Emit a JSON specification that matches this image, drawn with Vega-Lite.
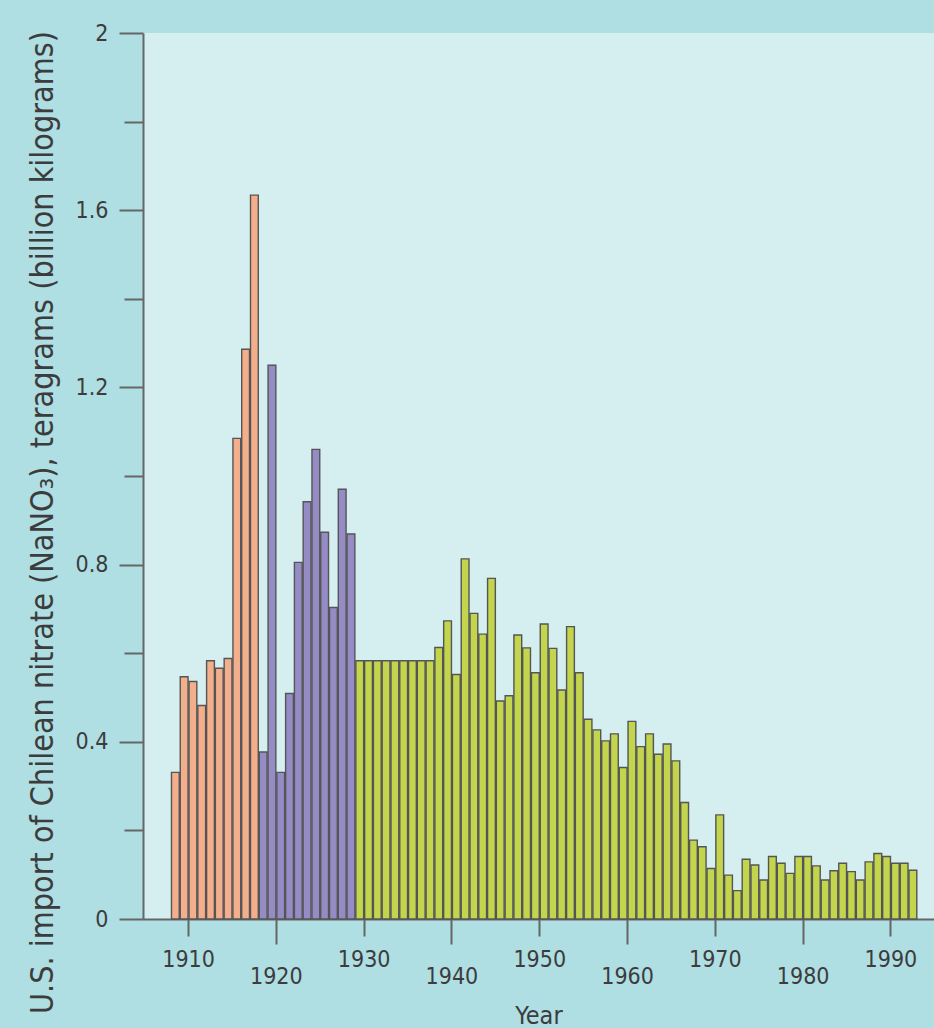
{
  "$schema": "https://vega.github.io/schema/vega-lite/v6.json",
  "width": 791,
  "height": 886,
  "autosize": {"type": "none"},
  "padding": {"left": 143, "top": 33, "right": 0, "bottom": 109},
  "background": "#afdee3",
  "config": {
    "view": {"fill": "#d5eef0", "stroke": null},
    "font": "DejaVu Sans Condensed"
  },
  "data": {
    "values": [
      {"year": 1908, "value": 0.331, "period": "a"},
      {"year": 1909, "value": 0.547, "period": "a"},
      {"year": 1910, "value": 0.536, "period": "a"},
      {"year": 1911, "value": 0.482, "period": "a"},
      {"year": 1912, "value": 0.583, "period": "a"},
      {"year": 1913, "value": 0.566, "period": "a"},
      {"year": 1914, "value": 0.588, "period": "a"},
      {"year": 1915, "value": 1.085, "period": "a"},
      {"year": 1916, "value": 1.286, "period": "a"},
      {"year": 1917, "value": 1.634, "period": "a"},
      {"year": 1918, "value": 0.377, "period": "b"},
      {"year": 1919, "value": 1.250, "period": "b"},
      {"year": 1920, "value": 0.331, "period": "b"},
      {"year": 1921, "value": 0.509, "period": "b"},
      {"year": 1922, "value": 0.805, "period": "b"},
      {"year": 1923, "value": 0.942, "period": "b"},
      {"year": 1924, "value": 1.060, "period": "b"},
      {"year": 1925, "value": 0.873, "period": "b"},
      {"year": 1926, "value": 0.703, "period": "b"},
      {"year": 1927, "value": 0.970, "period": "b"},
      {"year": 1928, "value": 0.869, "period": "b"},
      {"year": 1929, "value": 0.583, "period": "c"},
      {"year": 1930, "value": 0.583, "period": "c"},
      {"year": 1931, "value": 0.583, "period": "c"},
      {"year": 1932, "value": 0.583, "period": "c"},
      {"year": 1933, "value": 0.583, "period": "c"},
      {"year": 1934, "value": 0.583, "period": "c"},
      {"year": 1935, "value": 0.583, "period": "c"},
      {"year": 1936, "value": 0.583, "period": "c"},
      {"year": 1937, "value": 0.583, "period": "c"},
      {"year": 1938, "value": 0.613, "period": "c"},
      {"year": 1939, "value": 0.673, "period": "c"},
      {"year": 1940, "value": 0.552, "period": "c"},
      {"year": 1941, "value": 0.813, "period": "c"},
      {"year": 1942, "value": 0.690, "period": "c"},
      {"year": 1943, "value": 0.643, "period": "c"},
      {"year": 1944, "value": 0.769, "period": "c"},
      {"year": 1945, "value": 0.492, "period": "c"},
      {"year": 1946, "value": 0.504, "period": "c"},
      {"year": 1947, "value": 0.641, "period": "c"},
      {"year": 1948, "value": 0.612, "period": "c"},
      {"year": 1949, "value": 0.556, "period": "c"},
      {"year": 1950, "value": 0.666, "period": "c"},
      {"year": 1951, "value": 0.611, "period": "c"},
      {"year": 1952, "value": 0.517, "period": "c"},
      {"year": 1953, "value": 0.660, "period": "c"},
      {"year": 1954, "value": 0.556, "period": "c"},
      {"year": 1955, "value": 0.451, "period": "c"},
      {"year": 1956, "value": 0.427, "period": "c"},
      {"year": 1957, "value": 0.402, "period": "c"},
      {"year": 1958, "value": 0.418, "period": "c"},
      {"year": 1959, "value": 0.342, "period": "c"},
      {"year": 1960, "value": 0.446, "period": "c"},
      {"year": 1961, "value": 0.389, "period": "c"},
      {"year": 1962, "value": 0.418, "period": "c"},
      {"year": 1963, "value": 0.372, "period": "c"},
      {"year": 1964, "value": 0.395, "period": "c"},
      {"year": 1965, "value": 0.357, "period": "c"},
      {"year": 1966, "value": 0.263, "period": "c"},
      {"year": 1967, "value": 0.178, "period": "c"},
      {"year": 1968, "value": 0.163, "period": "c"},
      {"year": 1969, "value": 0.114, "period": "c"},
      {"year": 1970, "value": 0.235, "period": "c"},
      {"year": 1971, "value": 0.099, "period": "c"},
      {"year": 1972, "value": 0.064, "period": "c"},
      {"year": 1973, "value": 0.135, "period": "c"},
      {"year": 1974, "value": 0.122, "period": "c"},
      {"year": 1975, "value": 0.088, "period": "c"},
      {"year": 1976, "value": 0.141, "period": "c"},
      {"year": 1977, "value": 0.126, "period": "c"},
      {"year": 1978, "value": 0.103, "period": "c"},
      {"year": 1979, "value": 0.141, "period": "c"},
      {"year": 1980, "value": 0.141, "period": "c"},
      {"year": 1981, "value": 0.120, "period": "c"},
      {"year": 1982, "value": 0.088, "period": "c"},
      {"year": 1983, "value": 0.109, "period": "c"},
      {"year": 1984, "value": 0.126, "period": "c"},
      {"year": 1985, "value": 0.107, "period": "c"},
      {"year": 1986, "value": 0.088, "period": "c"},
      {"year": 1987, "value": 0.129, "period": "c"},
      {"year": 1988, "value": 0.148, "period": "c"},
      {"year": 1989, "value": 0.141, "period": "c"},
      {"year": 1990, "value": 0.126, "period": "c"},
      {"year": 1991, "value": 0.126, "period": "c"},
      {"year": 1992, "value": 0.110, "period": "c"}
    ]
  },
  "mark": {"type": "bar", "stroke": "#555555", "strokeWidth": 1.4},
  "encoding": {
    "x": {
      "field": "year",
      "type": "quantitative",
      "bin": {"binned": true, "step": 1},
      "scale": {"domain": [1904.87, 1994.96], "nice": false, "zero": false},
      "axis": {
        "values": [1910, 1920, 1930, 1940, 1950, 1960, 1970, 1980, 1990],
        "format": "d",
        "grid": false,
        "domainColor": "#666666",
        "domainWidth": 2,
        "tickColor": "#666666",
        "tickWidth": 2,
        "tickSize": {"condition": {"test": "datum.value % 20 == 0", "value": 25}, "value": 17},
        "labelPadding": {"condition": {"test": "datum.value % 20 == 0", "value": 21}, "value": 12},
        "labelFont": "DejaVu Sans Condensed",
        "labelFontSize": 23,
        "labelColor": "#3c3c3c",
        "labelBaseline": "top",
        "title": "Year",
        "titleFont": "DejaVu Sans Condensed",
        "titleFontSize": 25,
        "titleFontWeight": "normal",
        "titleColor": "#3c3c3c",
        "titleY": 104,
        "titleBaseline": "alphabetic"
      }
    },
    "y": {
      "field": "value",
      "type": "quantitative",
      "scale": {"domain": [0, 2], "nice": false},
      "axis": {
        "values": [0, 0.2, 0.4, 0.6, 0.8, 1, 1.2, 1.4, 1.6, 1.8, 2],
        "labelExpr": "round(datum.value * 10) % 4 == 0 ? format(datum.value, '~g') : ''",
        "grid": false,
        "domainColor": "#666666",
        "domainWidth": 2,
        "tickColor": "#666666",
        "tickWidth": 2,
        "tickSize": {"condition": {"test": "round(datum.value * 10) % 4 == 0", "value": 24}, "value": 19},
        "labelPadding": 11,
        "labelFont": "DejaVu Sans Condensed",
        "labelFontSize": 23,
        "labelColor": "#3c3c3c",
        "title": "U.S. import of Chilean nitrate (NaNO₃), teragrams (billion kilograms)",
        "titleFont": "DejaVu Sans Condensed",
        "titleFontSize": 32,
        "titleFontWeight": "normal",
        "titleColor": "#3c3c3c",
        "titleX": -91,
        "titleY": 489,
        "titleBaseline": "alphabetic",
        "titleAngle": -90
      }
    },
    "fill": {
      "field": "period",
      "type": "nominal",
      "scale": {"domain": ["a", "b", "c"], "range": ["#f3ae8b", "#958cc6", "#c2d54c"]},
      "legend": null
    }
  }
}
